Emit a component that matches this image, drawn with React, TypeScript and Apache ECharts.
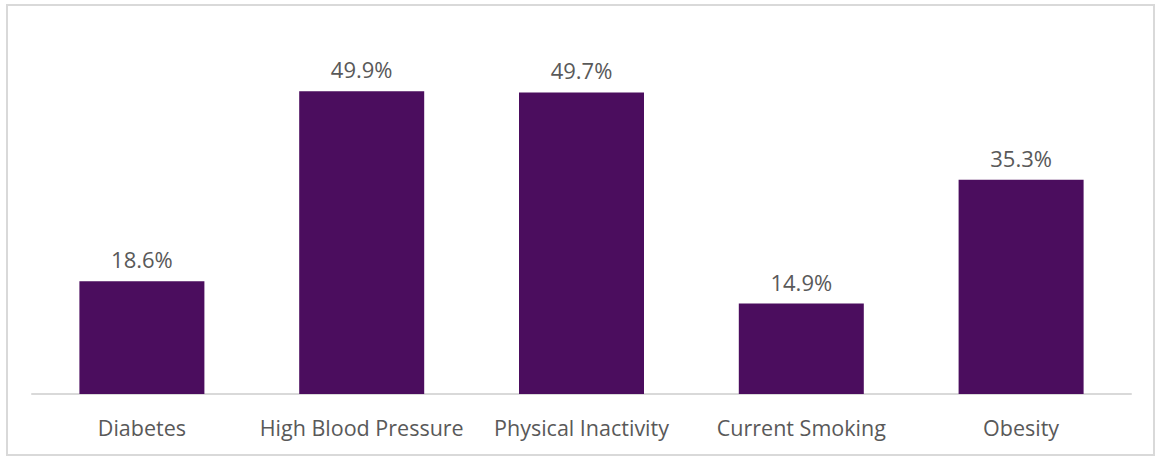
import React, { useEffect, useRef } from "react";
import * as echarts from "echarts";

const categories = ["Diabetes", "High Blood Pressure", "Physical Inactivity", "Current Smoking", "Obesity"];
const values = [18.6, 49.9, 49.7, 14.9, 35.3];

export default function App() {
  const ref = useRef<HTMLDivElement>(null);
  useEffect(() => {
    if (!ref.current) return;
    const chart = echarts.init(ref.current, null, { renderer: "svg" });
    const font = "'Open Sans', sans-serif";
    chart.setOption({
      animation: false,
      backgroundColor: "#ffffff",
      graphic: [
        {
          type: "rect",
          shape: { x: 7, y: 5, width: 1147, height: 450 },
          style: { fill: "none", stroke: "#d9d9d9", lineWidth: 2 },
          silent: true,
        },
      ],
      grid: { left: 32, right: 24, top: 30, bottom: 62, containLabel: false },
      xAxis: {
        type: "category",
        data: categories,
        axisLine: { lineStyle: { color: "#d9d9d9", width: 2 } },
        axisTick: { show: false },
        axisLabel: { color: "#595959", fontSize: 21.5, fontFamily: font, margin: 22, interval: 0 },
      },
      yAxis: {
        type: "value",
        min: 0,
        max: 60,
        show: false,
        splitLine: { show: false },
      },
      series: [
        {
          type: "bar",
          data: values,
          barWidth: 125,
          itemStyle: { color: "#4B0D5E" },
          label: {
            show: true,
            position: "top",
            distance: 11,
            color: "#595959",
            fontSize: 22,
            fontFamily: font,
            formatter: (p: any) => p.value.toFixed(1) + "%",
          },
        },
      ],
    });
    return () => chart.dispose();
  }, []);
  return (
    <div
      ref={ref}
      style={{ position: "fixed", left: 0, top: 0, width: 1155, height: 456 }}
    />
  );
}
